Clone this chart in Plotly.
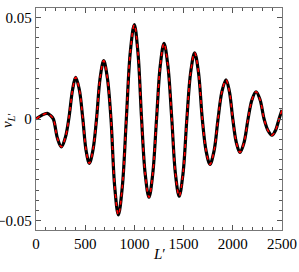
import plotly.graph_objects as go

L_vals = [0, 57, 115, 148, 176, 218, 257, 296, 333, 372, 403, 440, 476, 509, 542, 578,
          615, 652, 688, 725, 762, 800, 837, 877, 918, 958, 999, 1036, 1073, 1110, 1148,
          1186, 1225, 1263, 1301, 1340, 1380, 1417, 1455, 1494, 1533, 1572, 1612, 1651,
          1690, 1729, 1768, 1809, 1850, 1890, 1931, 1965, 2000, 2036, 2073, 2114, 2155,
          2195, 2236, 2277, 2318, 2359, 2398, 2435, 2470, 2500]
v_vals = [0.0, 0.0018, 0.0028, 0.0017, 0.0, -0.0095, -0.0137, -0.0095, 0.0, 0.0145,
          0.0205, 0.0145, 0.0, -0.0155, -0.0218, -0.0155, 0.0, 0.0203, 0.0287, 0.0203,
          0.0, -0.0334, -0.0472, -0.0334, 0.0, 0.0328, 0.0464, 0.0328, 0.0, -0.0272,
          -0.0385, -0.0272, 0.0, 0.0263, 0.0372, 0.0263, 0.0, -0.0269, -0.0380, -0.0269,
          0.0, 0.0230, 0.0326, 0.0230, 0.0, -0.0158, -0.0223, -0.0158, 0.0, 0.0136,
          0.0192, 0.0136, 0.0, -0.0116, -0.0164, -0.0116, 0.0, 0.0095, 0.0134, 0.0095,
          0.0, -0.0058, -0.0080, -0.0055, 0.0, 0.0044]

x_ticks = [0, 500, 1000, 1500, 2000, 2500]
x_ticktext = ["0", "500", "1000", "1500", "2000", "2500"]
y_ticks = [-0.05, 0, 0.05]
y_ticktext = ["\u22120.05", "0", "0.05"]

fig = go.Figure()
fig.add_trace(go.Scatter(x=L_vals, y=v_vals, mode="lines",
                         line=dict(color="black", width=3.2, shape="spline", smoothing=1.0),
                         showlegend=False, cliponaxis=True))
fig.add_trace(go.Scatter(x=L_vals, y=v_vals, mode="lines",
                         line=dict(color="red", width=1.6, dash="4px,4px", shape="spline", smoothing=1.0),
                         showlegend=False, cliponaxis=True))

font = dict(family="Liberation Serif", size=15, color="black")
fig.update_layout(
    width=299, height=272,
    margin=dict(l=36, r=17, t=8, b=42),
    paper_bgcolor="white", plot_bgcolor="white",
    font=font,
    xaxis=dict(range=[0, 2500], tickvals=x_ticks, ticktext=x_ticktext, automargin=False,
               ticks="inside", ticklen=5, tickcolor="#555", linecolor="#777", linewidth=1.2,
               mirror="allticks", showgrid=False, zeroline=False, tickfont=font,
               minor=dict(dtick=100, ticks="inside", ticklen=3, tickcolor="#555")),
    yaxis=dict(range=[-0.0546, 0.0546], tickvals=y_ticks, ticktext=y_ticktext, automargin=False,
               ticks="inside", ticklen=5, tickcolor="#555", linecolor="#777", linewidth=1.2,
               mirror="allticks", showgrid=False, zeroline=False, tickfont=font,
               minor=dict(dtick=0.005, tick0=0, ticks="inside", ticklen=3, tickcolor="#555")),
    annotations=[
        dict(text="<i>L</i>\u2032", xref="paper", yref="paper", x=0.5, y=-0.108,
             xanchor="center", yanchor="middle", showarrow=False, font=font),
        dict(text="<i>v</i><sub><i>L</i>\u2032</sub>", xref="paper", yref="paper",
             x=-0.114, y=0.495, xanchor="center", yanchor="middle", textangle=-90,
             showarrow=False, font=font),
    ],
)
fig.write_html("out.html", config={"displayModeBar": False, "staticPlot": True},
               post_script="document.body.style.margin='0';document.body.style.padding='0';document.body.style.overflow='hidden';")
